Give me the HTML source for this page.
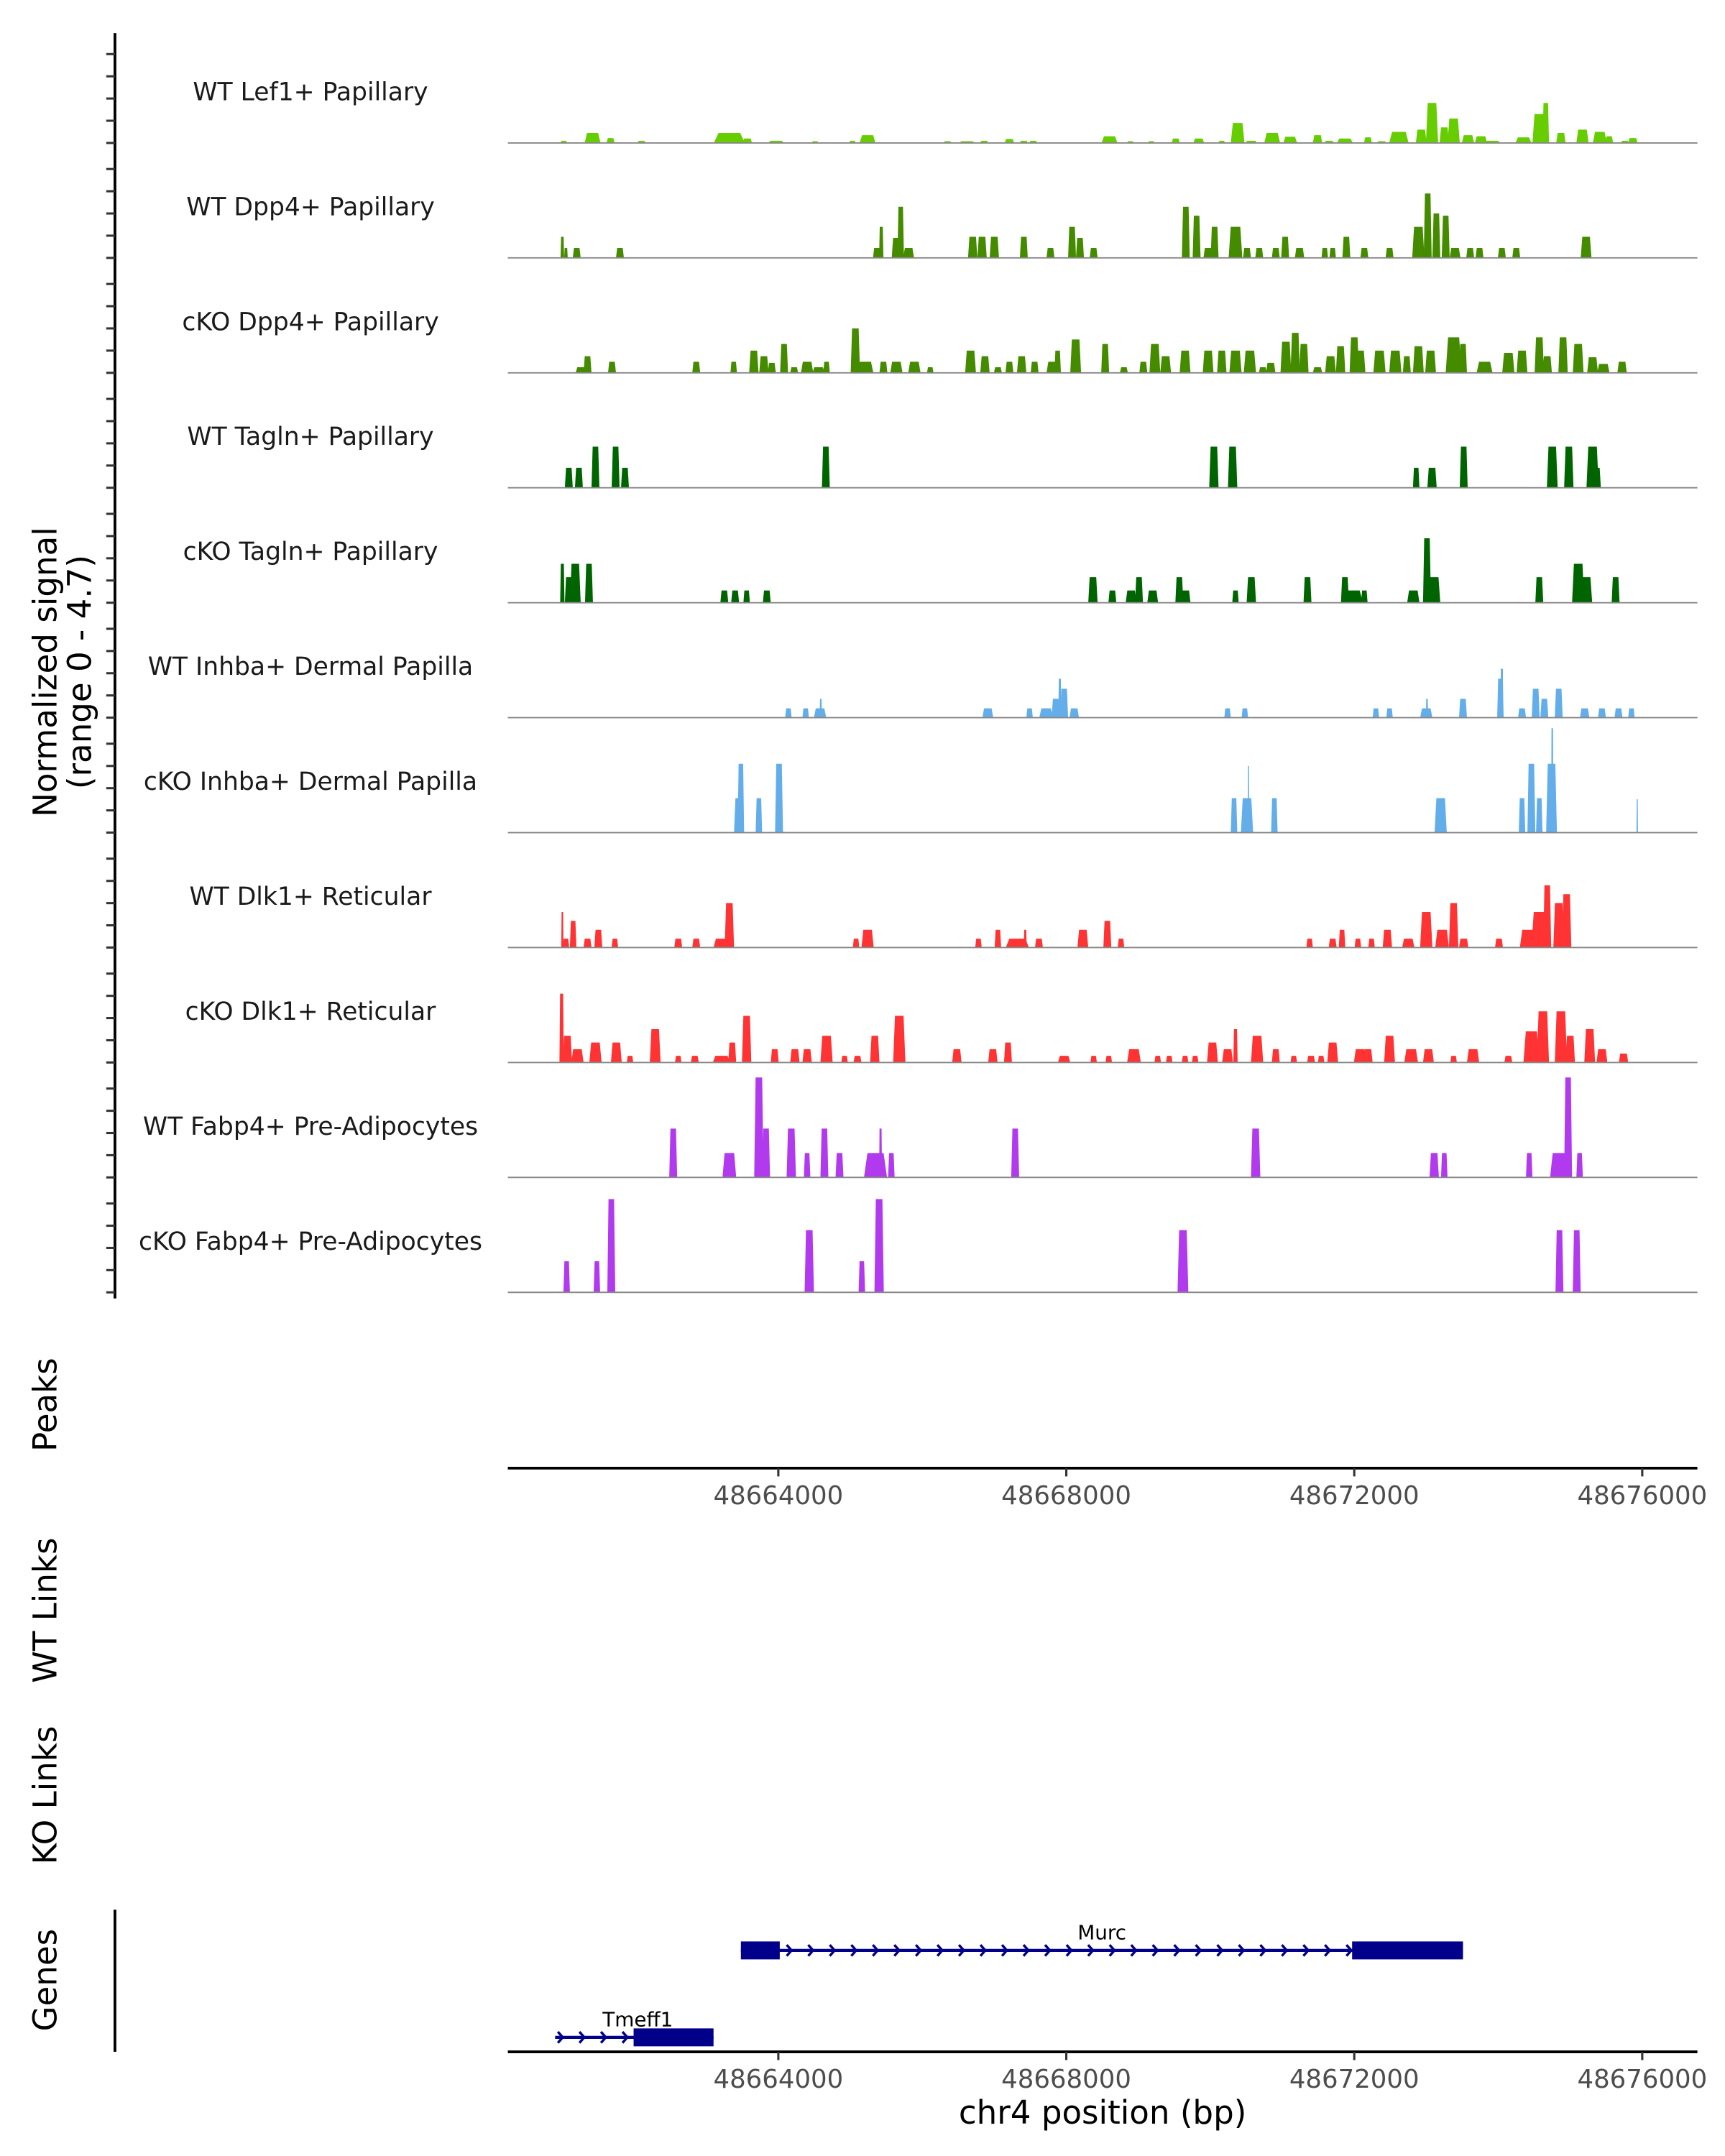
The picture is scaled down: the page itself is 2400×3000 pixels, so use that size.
<!DOCTYPE html>
<html><head><meta charset="utf-8"><style>
html,body{margin:0;padding:0;background:#fff;}
svg{display:block;}
text{font-family:"DejaVu Sans","Liberation Sans",sans-serif;}
</style></head><body>
<svg id="chart" width="2400" height="3000" viewBox="0 0 1250 1562.5" xmlns="http://www.w3.org/2000/svg">
<g id="axes"></g><g id="tracks"></g><g id="genes"></g>
</svg>
<script>
// positions are kb offsets from chr4:48,660,000; heights in normalized signal units; widths in kb
const trackNames = ["WT Lef1+ Papillary","WT Dpp4+ Papillary","cKO Dpp4+ Papillary","WT Tagln+ Papillary","cKO Tagln+ Papillary","WT Inhba+ Dermal Papilla","cKO Inhba+ Dermal Papilla","WT Dlk1+ Reticular","cKO Dlk1+ Reticular","WT Fabp4+ Pre-Adipocytes","cKO Fabp4+ Pre-Adipocytes"];
const trackColors = ["#66cd00","#458b00","#458b00","#006400","#006400","#63aeea","#63aeea","#ff3333","#ff3333","#b23aee","#b23aee"];
const lef1WT = [[1.02,.1,.09],[1.42,.45,.22],[1.67,.22,.11],[2.10,.1,.11],[3.32,.45,.43],[3.57,.2,.13],[3.97,.1,.22],[4.51,.08,.09],[5.03,.1,.09],[5.24,.35,.22],[6.35,.08,.11],[6.62,.08,.22],[6.86,.1,.11],[7.21,.18,.13],[7.41,.1,.11],[7.54,.1,.11],[8.60,.3,.22],[8.89,.08,.09],[9.18,.08,.09],[9.52,.2,.11],[9.84,.2,.15],[10.16,.1,.09],[10.38,.9,.19],[10.57,.1,.16],[10.86,.45,.22],[11.11,.28,.19],[11.49,.35,.13],[11.65,.1,.13],[11.87,.2,.22],[12.19,.25,.11],[12.38,.08,.13],[12.62,.5,.27],[12.93,.6,.15],[13.08,1.8,.17],[13.25,.7,.13],[13.38,1.1,.17],[13.58,.35,.17],[13.76,.3,.17],[13.92,.1,.22],[14.35,.25,.22],[14.57,1.3,.19],[14.66,1.8,.09],[14.87,.45,.13],[15.17,.6,.17],[15.41,.5,.19],[15.54,.3,.11],[15.76,.1,.11],[15.87,.22,.13]];
const dpp4WT = [[1.00,.95,.05],[1.05,.45,.05],[1.20,.45,.11],[1.80,.45,.11],[5.37,.45,.11],[5.43,1.4,.06],[5.64,.9,.13],[5.70,2.3,.09],[5.81,.45,.15],[6.70,.95,.13],[6.83,.95,.13],[7.00,.95,.13],[7.41,.95,.11],[7.78,.45,.11],[8.08,1.4,.11],[8.19,.9,.11],[8.38,.45,.11],[9.66,2.3,.11],[9.81,1.9,.11],[9.97,.45,.13],[10.06,1.4,.11],[10.35,1.4,.19],[10.51,.45,.11],[10.68,.45,.11],[10.91,.45,.11],[11.04,.95,.11],[11.24,.45,.13],[11.59,.45,.09],[11.70,.45,.09],[11.89,.95,.11],[12.14,.45,.11],[12.49,.45,.11],[12.89,1.4,.17],[13.02,2.9,.11],[13.14,2.0,.11],[13.27,1.9,.11],[13.40,.45,.15],[13.61,.45,.11],[13.74,.45,.11],[14.05,.45,.11],[14.25,.45,.11],[15.22,.95,.15]];
const dpp4KO = [[1.26,.25,.15],[1.35,.75,.11],[1.69,.5,.11],[2.86,.5,.11],[3.38,.5,.09],[3.66,1.0,.13],[3.80,.75,.13],[3.91,.45,.11],[4.08,1.3,.11],[4.22,.25,.11],[4.40,.5,.17],[4.56,.25,.17],[4.67,.5,.09],[5.07,2.0,.13],[5.21,.5,.22],[5.46,.5,.11],[5.64,.5,.17],[5.89,.5,.17],[6.11,.25,.09],[6.67,1.0,.15],[6.87,.75,.13],[7.05,.25,.11],[7.21,.5,.11],[7.38,.75,.13],[7.56,.5,.11],[7.81,.5,.17],[7.88,1.0,.09],[8.13,1.5,.15],[8.54,1.3,.11],[8.80,.25,.11],[9.07,.5,.11],[9.23,1.3,.15],[9.38,.75,.15],[9.65,1.0,.15],[9.97,1.0,.15],[10.16,1.0,.13],[10.35,1.0,.17],[10.55,1.0,.17],[10.73,.25,.11],[10.84,.45,.13],[11.05,1.4,.15],[11.18,1.8,.13],[11.30,1.3,.13],[11.49,.25,.13],[11.67,.75,.15],[11.81,1.2,.13],[12.00,1.6,.13],[12.08,1.0,.15],[12.35,1.0,.17],[12.57,1.0,.17],[12.73,.75,.11],[12.89,1.2,.15],[13.06,1.0,.15],[13.38,1.6,.22],[13.51,1.3,.11],[13.81,.5,.22],[14.14,.9,.17],[14.33,1.0,.15],[14.57,1.6,.13],[14.68,.75,.13],[14.90,1.6,.13],[15.11,1.3,.15],[15.31,.7,.15],[15.46,.4,.17],[15.72,.5,.13]];
const taglnWT = [[1.09,.9,.11],[1.23,.9,.11],[1.46,1.85,.11],[1.74,1.85,.11],[1.87,.9,.11],[4.66,1.85,.11],[10.05,1.85,.13],[10.31,1.85,.13],[12.86,.9,.09],[13.08,.9,.13],[13.52,1.85,.11],[14.75,1.85,.15],[14.98,1.85,.13],[15.31,1.85,.17],[15.37,.9,.11]];
const taglnKO = [[1.00,1.75,.06],[1.09,1.15,.11],[1.18,1.75,.15],[1.37,1.75,.11],[3.25,.55,.11],[3.40,.55,.11],[3.56,.55,.09],[3.84,.55,.11],[8.37,1.15,.13],[8.64,.55,.11],[8.90,.55,.15],[9.01,1.15,.11],[9.20,.55,.15],[9.57,1.15,.11],[9.66,.55,.13],[10.35,.55,.09],[10.57,1.15,.13],[11.35,1.15,.11],[11.87,1.15,.11],[11.97,.55,.30],[12.14,.55,.09],[12.82,.55,.17],[13.01,2.9,.11],[13.11,1.15,.17],[14.57,1.15,.11],[15.11,1.75,.17],[15.22,1.15,.17],[15.63,1.15,.11]];
const inhbaWT = [[4.14,.42,.09],[4.38,.42,.09],[4.58,.42,.17],[4.59,.85,.03],[6.91,.42,.15],[7.49,.42,.09],[7.72,.42,.19],[7.86,.85,.13],[7.91,1.75,.04],[7.97,1.3,.11],[8.11,.42,.13],[10.24,.42,.09],[10.48,.42,.09],[12.30,.42,.09],[12.49,.42,.09],[13.00,.42,.17],[13.01,.85,.03],[13.51,.85,.11],[14.03,1.75,.09],[14.05,2.2,.04],[14.33,.42,.11],[14.52,1.3,.11],[14.64,.85,.11],[14.84,1.3,.11],[15.20,.42,.13],[15.44,.42,.11],[15.67,.42,.11],[15.85,.42,.09]];
const inhbaKO = [[3.45,1.55,.13],[3.48,3.1,.09],[3.73,1.55,.09],[4.01,3.1,.11],[10.33,1.55,.09],[10.51,1.55,.17],[10.53,3.0,.02],[10.89,1.55,.09],[13.20,1.55,.17],[14.33,1.55,.09],[14.46,3.1,.11],[14.57,1.55,.09],[14.74,3.1,.15],[14.75,4.7,.03],[15.93,1.5,.02]];
const dlk1WT = [[1.00,1.6,.03],[1.05,.4,.09],[1.15,1.2,.09],[1.35,.4,.11],[1.50,.8,.11],[1.73,.4,.09],[2.61,.4,.11],[2.86,.4,.11],[3.21,.4,.22],[3.32,2.0,.13],[5.08,.4,.09],[5.24,.8,.17],[6.78,.4,.09],[7.05,.8,.09],[7.32,.4,.32],[7.43,.8,.04],[7.62,.4,.11],[8.23,.8,.15],[8.57,1.2,.11],[8.76,.4,.09],[11.38,.4,.09],[11.70,.4,.11],[11.83,.8,.09],[12.05,.4,.09],[12.24,.4,.09],[12.46,.8,.13],[12.75,.4,.17],[13.00,1.6,.17],[13.22,.8,.19],[13.38,2.0,.13],[13.52,.4,.13],[14.01,.4,.11],[14.41,.8,.22],[14.57,1.6,.22],[14.68,2.8,.11],[14.84,2.0,.15],[14.95,2.4,.13]];
const dlk1KO = [[0.99,3.1,.06],[1.07,1.2,.13],[1.21,.6,.17],[1.46,.9,.17],[1.75,.9,.15],[1.94,.3,.09],[2.29,1.5,.15],[2.61,.3,.09],[2.84,.3,.11],[3.21,.3,.24],[3.36,.9,.11],[3.56,2.1,.13],[3.95,.6,.11],[4.23,.6,.13],[4.40,.6,.13],[4.67,1.2,.17],[4.92,.3,.09],[5.10,.3,.11],[5.34,1.2,.13],[5.68,2.1,.17],[6.48,.6,.13],[6.98,.6,.13],[7.19,.9,.11],[7.97,.3,.17],[8.38,.3,.09],[8.59,.3,.09],[8.94,.6,.19],[9.27,.3,.09],[9.43,.3,.09],[9.65,.3,.09],[9.79,.3,.09],[10.03,.9,.15],[10.24,.6,.15],[10.35,1.5,.06],[10.65,1.2,.17],[10.91,.6,.11],[11.16,.3,.09],[11.40,.3,.11],[11.54,.3,.09],[11.70,.9,.15],[12.08,.6,.17],[12.19,.6,.13],[12.49,1.2,.15],[12.79,.6,.19],[13.03,.6,.15],[13.38,.3,.09],[13.65,.6,.17],[14.14,.3,.11],[14.46,1.4,.22],[14.62,2.3,.17],[14.87,2.3,.17],[15.00,1.2,.13],[15.27,1.5,.15],[15.44,.6,.15],[15.74,.4,.13]];
const fabp4WT = [[2.54,2.2,.11],[3.32,1.1,.19],[3.73,4.5,.13],[3.83,2.2,.11],[4.18,2.2,.13],[4.40,1.1,.09],[4.64,2.2,.11],[4.85,1.1,.11],[5.35,1.1,.32],[5.42,2.2,.04],[5.57,1.1,.09],[7.29,2.2,.11],[10.63,2.2,.13],[13.11,1.1,.13],[13.25,1.1,.09],[14.43,1.1,.09],[14.84,1.1,.24],[14.97,4.5,.11],[15.13,1.1,.09]];
const fabp4KO = [[1.06,1.4,.09],[1.48,1.4,.09],[1.68,4.2,.11],[4.43,2.8,.13],[5.16,1.4,.09],[5.40,4.2,.13],[9.62,2.8,.15],[14.85,2.8,.11],[15.09,2.8,.11]];
const trackData = [lef1WT,dpp4WT,dpp4KO,taglnWT,taglnKO,inhbaWT,inhbaKO,dlk1WT,dlk1KO,fabp4WT,fabp4KO];
const xTicks = [4,8,12,16];
const xTickLabels = ["48664000","48668000","48672000","48676000"];
const geneNames = ["Murc","Tmeff1"];
const geneStart = [3.48,0.90];
const geneEnd = [13.51,3.10];
const geneExons = [[[3.48,4.02],[11.97,13.51]],[[1.99,3.10]]];

const NS="http://www.w3.org/2000/svg";
const X0=368, X1=1230;
function x(kb){return 564+(kb-4)*52.17;}
const baseline0=103.6, panelStep=83.3, unit=16.1;
function yb(i){return baseline0+i*panelStep;}
function mk(tag,attrs,parent){const e=document.createElementNS(NS,tag);for(const k in attrs)e.setAttribute(k,attrs[k]);parent.appendChild(e);return e;}
const axes=document.getElementById('axes'), tracksG=document.getElementById('tracks'), genesG=document.getElementById('genes');

let yl=mk('line',{x1:83.3,x2:83.3,y1:24,y2:941,stroke:'#000','stroke-width':2},axes);


for(let i=0;i<11;i++){for(let k=0;k<5;k++){const yy=yb(i)-k*unit;
 const t=mk('line',{x1:77,x2:83.3,y1:yy,y2:yy,stroke:'#333','stroke-width':1.6},axes);
 
 }}
function rotText(str,cx,cy,size,name){const t=mk('text',{x:0,y:0,'font-size':size,'text-anchor':'middle',fill:'#000',transform:`translate(${cx},${cy}) rotate(-90)`},axes);t.textContent=str;
 
 return t;}
rotText('Normalized signal',41,487,23.5,'y-axis-title');
rotText('(range 0 - 4.7)',66,487,23.5,'y-axis-subtitle');
rotText('Peaks',41,1018,23.5,'peaks-title');
rotText('WT Links',41,1167,23.5,'wt-links-title');
rotText('KO Links',41,1301,23.5,'ko-links-title');
rotText('Genes',41,1435,23.5,'genes-title');

trackData.forEach((peaks,i)=>{
 const g=mk('g',{},tracksG);
 
 
 const lab=mk('text',{x:225,y:yb(i)-31,'font-size':18,'text-anchor':'middle',fill:'#1a1a1a'},g);
 lab.textContent=trackNames[i];
 
 
 peaks.forEach(p=>{
  const c=p[0],h=p[1],w=p[2],by=yb(i),ty=by-h*unit;
  const l=x(c-w/2),r=x(c+w/2),tl=x(c-w*0.35),tr=x(c+w*0.35);
  const poly=mk('polygon',{points:`${l},${by} ${tl},${ty} ${tr},${ty} ${r},${by}`,fill:trackColors[i]},g);
  
  
 });
 const bl=mk('line',{x1:X0,x2:X1,y1:yb(i),y2:yb(i),stroke:'#888','stroke-width':1},g);
 
 
});

function xAxis(yy,name){
 const g=mk('g',{},axes);
 
 
 mk('line',{x1:X0,x2:X1,y1:yy,y2:yy,stroke:'#000','stroke-width':2},g);
 xTicks.forEach((t,j)=>{
  const tk=mk('line',{x1:x(t),x2:x(t),y1:yy,y2:yy+6,stroke:'#333','stroke-width':1.6},g);
  
  
  const tl=mk('text',{x:x(t),y:yy+26,'font-size':18.5,'text-anchor':'middle',fill:'#4d4d4d'},g);
  tl.textContent=xTickLabels[j];
  
  
 });
}
xAxis(1064,'peaks-x-axis');
xAxis(1487,'genes-x-axis');
const xt=mk('text',{x:799,y:1539,'font-size':23.5,'text-anchor':'middle',fill:'#000'},axes);
xt.textContent='chr4 position (bp)';


const gl=mk('line',{x1:83.3,x2:83.3,y1:1384,y2:1487,stroke:'#000','stroke-width':2},axes);



const geneY=[1413.5,1476.5];
geneNames.forEach((n,i)=>{
 const g=mk('g',{},genesG);
 
 
 const yy=geneY[i], xs=x(geneStart[i]), xe=x(geneEnd[i]);
 mk('line',{x1:xs,x2:xe,y1:yy,y2:yy,stroke:'#00008b','stroke-width':2.2},g);
 for(let cx=xs+2;cx<xe-4;cx+=15.6){
  mk('polyline',{points:`${cx},${yy-4} ${cx+3.5},${yy} ${cx},${yy+4}`,fill:'none',stroke:'#00008b','stroke-width':1.8},g);
 }
 geneExons[i].forEach(e=>{
  const r=mk('rect',{x:x(e[0]),y:yy-6.5,width:x(e[1])-x(e[0]),height:13,fill:'#00008b'},g);
  
  
 });
 const lx = i===0 ? (xs+xe)/2 : x(geneExons[i][0][0])+3;
 const t=mk('text',{x:lx,y:yy-8,'font-size':14.5,'text-anchor':'middle',fill:'#000'},g);
 t.textContent=n;
 
 
});
</script>
</body></html>
